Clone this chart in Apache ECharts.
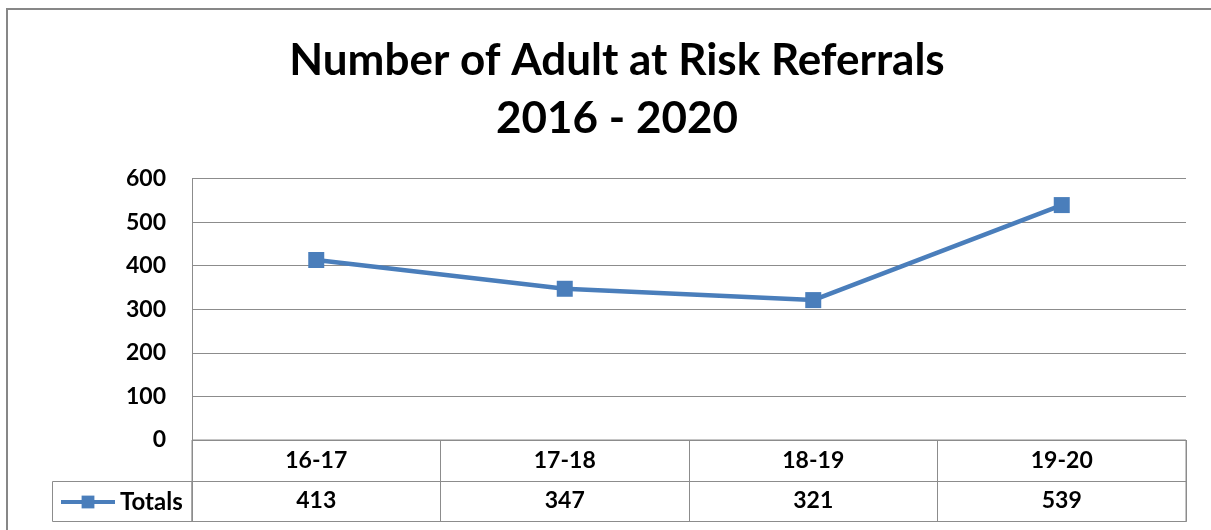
<!DOCTYPE html>
<html>
<head>
<meta charset="utf-8">
<title>Number of Adult at Risk Referrals</title>
<script src="https://cdn.jsdelivr.net/npm/echarts@6/dist/echarts.min.js"></script>
<style>
  html, body { margin: 0; padding: 0; background: #fff; }
  #chart { width: 1211px; height: 530px; }
</style>
</head>
<body>
<div id="chart"></div>
<script>
// data
var years = ["16-17", "17-18", "18-19", "19-20"];
var totals = [413, 347, 321, 539];
var seriesName = "Totals";

var blue = "#4a7ebb";
var gridGray = "#8c8c8c";
var font = "Lato, 'Open Sans', sans-serif";

var chart = echarts.init(document.getElementById("chart"));

chart.setOption({
  backgroundColor: "#fff",
  animation: false,
  title: {
    text: "Number of Adult at Risk Referrals\n2016 - 2020",
    left: 612,
    top: 27,
    textAlign: "center",
    textStyle: {
      fontFamily: font,
      fontWeight: "bold",
      fontSize: 44,
      lineHeight: 58,
      color: "#000"
    }
  },
  legend: {
    data: [seriesName],
    left: 59,
    top: 490,
    padding: 0,
    itemWidth: 54,
    itemHeight: 16,
    lineStyle: { width: 4 },
    textStyle: { fontFamily: font, fontWeight: "bold", fontSize: 24, color: "#000" }
  },
  graphic: [
    {
      // outer chart frame
      type: "rect",
      shape: { x: 7, y: 9, width: 1260, height: 560 },
      style: { fill: null, stroke: "#878787", lineWidth: 2 },
      silent: true
    },
    {
      // legend cell of the data table
      type: "rect",
      shape: { x: 52.5, y: 481.5, width: 139.5, height: 40 },
      style: { fill: null, stroke: gridGray, lineWidth: 1 },
      silent: true
    }
  ],
  grid: [
    { left: 192, right: 25, top: 178.5, bottom: 90 },
    { left: 192, right: 25, top: 440, bottom: 8.5, show: true, borderColor: gridGray, borderWidth: 1 }
  ],
  xAxis: [
    {
      gridIndex: 0,
      type: "category",
      data: years,
      boundaryGap: true,
      axisLine: { show: false },
      axisTick: { show: false },
      axisLabel: { show: false },
      splitLine: { show: false }
    },
    {
      // category row of the data table
      gridIndex: 1,
      type: "category",
      position: "top",
      data: years,
      boundaryGap: true,
      axisLine: { show: true, lineStyle: { color: gridGray } },
      axisTick: { show: false },
      axisLabel: {
        inside: true,
        margin: 20.5,
        verticalAlign: "middle",
        fontFamily: font,
        fontWeight: "bold",
        fontSize: 23,
        color: "#000"
      },
      splitLine: { show: true, lineStyle: { color: gridGray, width: 1 } }
    },
    {
      // values row of the data table
      gridIndex: 1,
      type: "category",
      position: "bottom",
      data: years,
      boundaryGap: true,
      axisLine: { show: true, lineStyle: { color: gridGray } },
      axisTick: { show: false },
      axisLabel: {
        inside: true,
        margin: 20.5,
        verticalAlign: "middle",
        fontFamily: font,
        fontWeight: "bold",
        fontSize: 23,
        color: "#000",
        formatter: function (v, i) { return String(totals[i]); }
      },
      splitLine: { show: false }
    }
  ],
  yAxis: [
    {
      gridIndex: 0,
      type: "value",
      min: 0,
      max: 600,
      interval: 100,
      axisLine: { show: true, lineStyle: { color: gridGray } },
      axisTick: { show: false },
      axisLabel: {
        margin: 26,
        fontFamily: font,
        fontWeight: "bold",
        fontSize: 23,
        color: "#000"
      },
      splitLine: { show: true, lineStyle: { color: gridGray, width: 1 } }
    },
    {
      gridIndex: 1,
      type: "value",
      min: 0,
      max: 2,
      interval: 1,
      axisLine: { show: false },
      axisTick: { show: false },
      axisLabel: { show: false },
      splitLine: { show: true, lineStyle: { color: gridGray, width: 1 } }
    }
  ],
  series: [
    {
      name: seriesName,
      type: "line",
      xAxisIndex: 0,
      yAxisIndex: 0,
      data: totals,
      symbol: "rect",
      symbolSize: 16,
      itemStyle: { color: blue },
      lineStyle: { color: blue, width: 4.5 },
      label: { show: false }
    }
  ]
});
</script>
</body>
</html>
